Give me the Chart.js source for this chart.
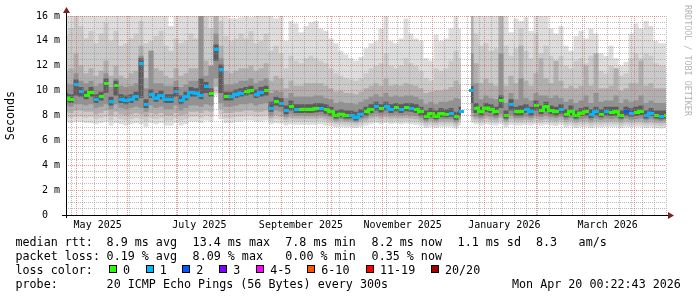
<!DOCTYPE html>
<html><head><meta charset="utf-8">
<script src="https://cdn.jsdelivr.net/npm/chart.js@4/dist/chart.umd.min.js"></script>
<style>
html,body{margin:0;padding:0;background:#fff;}
#wrap{position:relative;width:697px;height:297px;overflow:hidden;background:#fff;}
#c{position:absolute;left:0;top:0;}
.t{position:absolute;font-family:'DejaVu Sans Mono',monospace;font-size:11.7px;line-height:14px;color:#000;white-space:pre;}
.box{position:absolute;width:6px;height:6px;border:1px solid #000;}
#rrd{position:absolute;left:683px;top:5px;writing-mode:vertical-rl;font-family:'DejaVu Sans Mono',monospace;font-size:8.4px;line-height:10px;color:#b4b4b4;white-space:pre;}
</style></head>
<body><div id="wrap"><canvas id="c" width="697" height="297"></canvas><div id="rrd">RRDTOOL / TOBI OETIKER</div></div>
<script>
// ---------- data (one sample every 3 days, starting 2025-04-25) ----------
const startDate = '2025-04-25';
const stepDays = 3;
const median = [
 9.4,9.3,10.5,9.9,9.6,9.85,9.3,9.5,10.6,9.1,
 10.4,9.3,9.2,9.3,9.5,12.2,8.9,9.7,9.4,9.6,
 9.3,9.3,9.9,9.2,9.5,9.85,9.8,9.6,10.3,9.8,
 13.3,11.7,9.5,9.5,9.7,9.8,9.9,10.0,9.7,9.85,
 10.0,8.6,9.1,9.0,8.4,8.75,8.5,8.5,8.5,8.5,
 8.55,8.6,8.45,8.3,8.0,8.1,8.0,8.0,7.85,8.1,
 8.3,8.5,8.7,8.55,8.7,8.5,8.65,8.5,8.65,8.6,
 8.5,8.3,7.95,8.15,7.95,8.15,8.1,8.15,7.9,8.3,
 null,10.0,8.6,8.3,8.6,8.5,8.3,9.2,8.0,8.9,
 8.3,8.3,8.5,8.3,8.8,8.4,8.7,8.4,8.3,8.45,
 8.1,8.35,8.0,8.2,8.3,8.05,8.3,8.1,8.3,8.25,
 8.3,8.0,8.3,8.15,8.25,8.35,8.0,8.2,8.0,7.95,
 8.0];
const lossCount = [
 0,0,1,1,0,0,1,0,0,1,
 0,1,1,1,1,1,1,1,1,1,
 1,1,1,1,1,1,1,1,1,0,
 1,1,0,1,1,1,0,0,1,1,
 0,1,0,1,1,0,1,0,0,0,
 0,1,0,0,0,0,0,1,1,1,
 0,0,1,0,1,1,0,1,0,1,
 0,0,0,0,0,0,0,1,0,1,
 null,1,0,0,0,0,0,0,0,1,
 0,0,1,1,0,0,0,0,0,1,
 0,0,0,0,0,1,1,0,1,0,
 0,0,2,1,0,0,1,1,0,1,
 0];
const smokeTop1 = [
 16.5,16.5,16.5,16.5,16.5,16.5,16.5,16.5,16.5,16.5,
 16.5,16.5,16.5,16.5,16.5,16.5,16.5,16.5,16.5,16.5,
 16.5,15.2,16.5,16.5,16.5,16.5,16.5,16.5,16.5,16.5,
 16.5,16.5,16.5,15.8,15.8,15.9,16.5,15.9,16.5,16.0,
 16.5,16.0,15.8,16.5,14.0,15.6,15.4,14.7,15.2,15.5,
 15.6,15.0,14.8,14.2,13.8,13.2,12.9,12.6,12.4,12.7,
 13.4,13.8,14.0,15.0,16.2,14.0,13.8,14.2,15.8,14.6,
 14.2,14.0,12.6,12.4,14.5,14.0,14.2,15.0,16.2,15.0,
 null,16.5,16.5,16.5,16.2,16.5,16.0,16.5,16.0,14.7,
 15.8,15.6,15.9,14.8,16.5,16.0,16.3,15.0,14.6,15.2,
 13.6,13.2,14.4,14.8,14.2,15.0,14.6,13.0,12.8,13.6,
 12.6,12.0,12.3,14.6,15.4,15.0,15.6,15.2,14.0,13.8,
 13.8];
const smokeTop2 = [
 14.5,15.0,16.5,15.2,14.2,14.8,13.8,14.6,15.5,14.0,
 14.8,13.6,13.8,14.2,14.6,15.6,13.8,14.0,14.4,14.8,
 13.6,13.2,14.2,13.8,14.0,14.6,14.2,16.5,16.5,15.0,
 16.5,15.6,14.4,14.0,14.2,14.6,14.2,14.8,13.8,14.0,
 14.6,13.2,13.6,13.0,11.8,12.8,12.4,12.2,12.6,12.8,
 12.6,12.4,12.2,11.8,11.4,11.2,11.0,10.9,10.8,11.0,
 11.4,11.8,12.0,12.2,13.0,12.0,11.8,12.0,12.6,12.2,
 12.0,11.6,11.0,10.8,11.8,11.6,11.8,12.4,13.2,12.6,
 null,15.0,14.6,13.6,13.8,13.2,13.4,16.5,13.6,12.8,
 13.4,15.0,13.2,12.6,14.6,13.0,13.6,12.8,12.4,12.8,
 12.0,11.8,12.4,12.6,12.2,12.8,12.6,11.6,11.4,12.0,
 11.4,11.2,11.4,12.6,13.0,12.6,13.0,12.8,12.2,12.0,
 12.0];
const smokeTop3 = [
 11.6,11.8,13.0,12.0,11.4,11.8,11.2,11.6,12.4,11.2,
 12.0,11.2,11.0,11.4,11.6,13.6,11.0,13.2,11.8,11.6,
 11.2,11.0,11.8,11.2,11.4,11.8,11.8,16.5,12.4,12.0,
 16.5,13.6,11.6,11.4,11.6,11.8,11.8,12.0,11.6,11.8,
 12.2,10.8,11.2,11.0,10.2,10.8,10.4,10.4,10.6,10.6,
 10.6,10.6,10.4,10.2,9.9,10.0,9.8,9.8,9.7,9.9,
 10.2,10.4,10.6,10.4,11.0,10.4,10.5,10.4,10.6,10.5,
 10.4,10.2,9.8,9.9,10.0,10.0,10.1,10.3,10.8,10.5,
 null,16.5,12.2,10.6,11.0,10.6,10.4,16.0,10.4,11.2,
 10.6,13.6,10.8,10.4,11.4,12.6,11.0,10.6,12.4,10.8,
 10.2,10.4,10.2,10.4,12.0,10.4,13.0,10.2,10.2,10.4,
 11.8,10.0,10.2,10.6,10.6,12.4,10.4,10.6,10.2,10.2,
 10.2];
const smokeTop4 = [
 10.6,10.5,11.4,10.8,10.6,10.8,10.4,10.6,11.4,10.3,
 11.0,10.4,10.3,10.4,10.6,12.8,10.2,13.2,10.6,10.6,
 10.4,10.4,10.8,10.3,10.5,10.8,10.8,16.5,11.2,12.0,
 14.6,12.6,10.5,10.5,10.6,10.8,10.8,11.0,10.6,10.8,
 11.0,9.8,10.0,9.9,9.4,9.8,9.5,9.5,9.5,9.5,
 9.6,9.6,9.4,9.3,9.0,9.1,9.0,9.0,8.9,9.1,
 9.3,9.5,9.7,9.5,9.8,9.5,9.6,9.5,9.6,9.6,
 9.5,9.3,8.9,9.1,8.9,9.1,9.1,9.2,9.4,9.3,
 null,13.0,10.6,9.3,9.6,9.4,9.3,13.0,9.0,9.8,
 9.3,11.0,9.4,9.2,9.8,9.6,9.6,9.4,9.6,9.4,
 9.1,9.3,9.0,9.2,9.6,9.0,9.8,9.1,9.2,9.2,
 9.6,9.0,9.3,9.1,9.2,9.6,9.0,9.2,9.0,9.0,
 9.0];
const smokeTop5 = [
 9.8,9.7,10.9,10.3,10.0,10.3,9.7,9.9,11.0,9.5,
 10.8,9.7,9.6,9.7,9.9,12.6,9.3,10.1,9.8,10.0,
 9.7,9.7,10.3,9.6,9.9,10.3,10.2,11.0,10.7,10.2,
 13.7,12.1,9.9,9.9,10.1,10.2,10.3,10.4,10.1,10.3,
 10.4,9.1,9.5,9.4,8.8,9.2,8.9,8.9,8.9,8.9,
 9.0,9.0,8.9,8.7,8.4,8.5,8.4,8.4,8.3,8.5,
 8.7,8.9,9.1,8.9,9.1,8.9,9.0,8.9,9.0,9.0,
 8.9,8.7,8.4,8.6,8.4,8.6,8.5,8.6,8.3,8.7,
 null,10.4,9.0,8.7,9.0,8.9,8.7,9.6,8.4,9.3,
 8.7,8.8,8.9,8.7,9.2,8.8,9.1,8.8,8.7,8.9,
 8.5,8.8,8.4,8.6,8.7,8.5,8.7,8.5,8.7,8.7,
 8.7,8.4,8.7,8.6,8.7,8.8,8.4,8.6,8.4,8.4,
 8.4];
const smokeLow5 = [
 9.1,9.0,9.6,9.5,9.3,9.5,9.0,9.2,9.8,8.8,
 9.6,9.0,8.9,9.0,9.2,9.4,8.6,9.4,9.1,9.3,
 9.0,9.0,9.5,8.9,9.2,9.5,9.5,9.3,9.8,9.5,
 12.4,9.8,9.2,9.2,9.4,9.5,9.6,9.7,9.4,9.5,
 9.6,8.3,8.8,8.7,8.1,8.4,8.2,8.2,8.2,8.2,
 8.25,8.3,8.15,8.0,7.75,7.85,7.75,7.75,7.6,7.85,
 8.0,8.2,8.4,8.25,8.4,8.2,8.35,8.2,8.35,8.3,
 8.2,8.0,7.7,7.9,7.7,7.9,7.85,7.9,7.65,8.0,
 null,9.0,8.2,8.0,8.3,8.2,8.0,8.6,7.75,8.4,
 8.0,8.0,8.2,8.0,8.4,8.1,8.35,8.1,8.0,8.15,
 7.85,8.05,7.75,7.95,8.0,7.8,8.0,7.85,8.0,7.95,
 8.0,7.75,8.0,7.9,7.95,8.05,7.75,7.95,7.75,7.7,
 7.75];
const smokeLow4 = [
 8.8,8.7,8.9,8.9,8.8,8.9,8.6,8.7,8.9,8.5,
 8.9,8.6,8.5,8.6,8.7,8.6,8.3,8.8,8.6,8.7,
 8.5,8.5,8.8,8.4,8.6,8.8,8.8,8.7,8.9,8.8,
 11.0,9.0,8.7,8.7,8.8,8.9,8.9,9.0,8.8,8.9,
 9.0,8.0,8.4,8.3,7.9,8.1,8.0,8.0,8.0,8.0,
 8.0,8.05,7.95,7.85,7.6,7.7,7.6,7.6,7.5,7.7,
 7.8,8.0,8.1,8.0,8.1,8.0,8.05,8.0,8.05,8.0,
 7.95,7.8,7.55,7.7,7.55,7.7,7.7,7.7,7.5,7.8,
 null,8.2,7.9,7.8,8.0,7.9,7.8,8.1,7.6,8.0,
 7.8,7.8,7.9,7.8,8.0,7.85,8.0,7.85,7.8,7.9,
 7.65,7.8,7.6,7.7,7.75,7.6,7.75,7.65,7.75,7.7,
 7.75,7.6,7.75,7.65,7.7,7.75,7.6,7.7,7.6,7.55,
 7.6];
const smokeLow3 = [
 8.3,8.2,8.4,8.4,8.3,8.3,8.1,8.2,8.4,8.0,
 8.3,8.1,8.0,8.1,8.2,8.1,7.9,8.2,8.1,8.2,
 8.0,8.0,8.2,8.0,8.1,8.3,8.3,8.2,8.4,8.3,
 10.3,8.5,8.2,8.2,8.3,8.3,8.4,8.4,8.3,8.3,
 8.4,7.8,8.0,7.9,7.7,7.8,7.75,7.75,7.75,7.75,
 7.75,7.8,7.7,7.6,7.45,7.5,7.45,7.45,7.4,7.5,
 7.6,7.75,7.85,7.75,7.85,7.75,7.8,7.75,7.8,7.75,
 7.7,7.6,7.4,7.5,7.4,7.5,7.5,7.5,7.35,7.6,
 null,7.9,7.7,7.6,7.75,7.65,7.6,7.8,7.45,7.7,
 7.6,7.6,7.65,7.6,7.75,7.6,7.7,7.6,7.55,7.65,
 7.45,7.55,7.4,7.5,7.5,7.4,7.5,7.45,7.5,7.5,
 7.5,7.4,7.5,7.45,7.5,7.5,7.4,7.45,7.4,7.35,
 7.4];
const smokeLow2 = [
 7.9,7.8,7.9,7.9,7.8,7.9,7.7,7.8,7.9,7.6,
 7.9,7.7,7.6,7.7,7.8,7.7,7.5,7.8,7.7,7.8,
 7.6,7.6,7.8,7.6,7.7,7.9,7.9,7.8,8.0,7.9,
 9.8,8.1,7.8,7.8,7.9,7.9,8.0,8.0,7.9,7.9,
 8.0,7.55,7.7,7.65,7.45,7.55,7.5,7.5,7.5,7.5,
 7.5,7.55,7.45,7.4,7.3,7.3,7.25,7.25,7.2,7.3,
 7.4,7.5,7.6,7.5,7.6,7.5,7.55,7.5,7.55,7.5,
 7.45,7.4,7.2,7.3,7.2,7.3,7.3,7.3,7.15,7.4,
 null,7.6,7.5,7.4,7.5,7.45,7.4,7.55,7.25,7.45,
 7.4,7.4,7.45,7.4,7.5,7.4,7.45,7.4,7.35,7.45,
 7.25,7.35,7.2,7.3,7.3,7.2,7.3,7.25,7.3,7.3,
 7.3,7.2,7.3,7.25,7.3,7.3,7.2,7.25,7.2,7.15,
 7.2];
const smokeLow1 = [
 7.5,7.4,7.5,7.5,7.4,7.4,7.3,7.4,7.5,7.2,
 7.4,7.3,7.2,7.3,7.4,7.3,7.1,7.4,7.3,7.4,
 7.2,7.2,7.4,7.2,7.3,7.5,7.5,7.4,7.6,7.5,
 9.6,7.7,7.4,7.4,7.5,7.5,7.6,7.6,7.5,7.5,
 7.6,7.3,7.4,7.35,7.2,7.3,7.25,7.25,7.25,7.25,
 7.25,7.3,7.2,7.15,7.05,7.1,7.05,7.05,7.0,7.1,
 7.2,7.3,7.4,7.3,7.4,7.3,7.35,7.3,7.35,7.3,
 7.25,7.2,7.0,7.1,7.0,7.1,7.1,7.1,6.95,7.2,
 null,7.4,7.3,7.2,7.3,7.25,7.2,7.3,7.05,7.25,
 7.2,7.2,7.25,7.2,7.3,7.2,7.25,7.2,7.15,7.25,
 7.05,7.15,7.0,7.1,7.1,7.0,7.1,7.05,7.1,7.1,
 7.1,7.0,7.1,7.05,7.1,7.1,7.0,7.05,7.0,6.95,
 7.0];

// axis / tick labels
const monthStarts = ['2025-05-01','2025-06-01','2025-07-01','2025-08-01','2025-09-01','2025-10-01','2025-11-01','2025-12-01','2026-01-01','2026-02-01','2026-03-01','2026-04-01'];
const xLabelDates = ['2025-05-14','2025-07-14','2025-09-13','2025-11-13','2026-01-13','2026-03-16'];
const xLabels = ['May 2025','July 2025','September 2025','November 2025','January 2026','March 2026'];
const firstMonday = '2025-04-28';
const yLabelValues = [0,2,4,6,8,10,12,14,16];
const yLabels = ['0  ','2 m','4 m','6 m','8 m','10 m','12 m','14 m','16 m'];

// legend texts
const rowHeads = ['median rtt:','packet loss:','loss color:','probe:'];
const rttStats = ['8.9 ms avg','13.4 ms max','7.8 ms min','8.2 ms now','1.1 ms sd','8.3','am/s'];
const lossStats = ['0.19 % avg','8.09 % max','0.00 % min','0.35 % now'];
const lossLabels = ['0','1','2','3','4-5','6-10','11-19','20/20'];
const lossColors = ['#26ff00','#00b8ff','#0059ff','#7e00ff','#ff00ff','#ff5500','#ff0000','#a10000'];
const probeText = '20 ICMP Echo Pings (56 Bytes) every 300s';
const dateText = 'Mon Apr 20 00:22:43 2026';

// ---------- helpers ----------
const startUTC = (() => { const [y,m,d] = startDate.split('-').map(Number); return Date.UTC(y,m-1,d); })();
const dayOf = s => { const [y,m,d] = s.split('-').map(Number); return (Date.UTC(y,m-1,d) - startUTC) / 86400000; };
const totalDays = (median.length - 1) * stepDays;
const xs = median.map((_, i) => i * stepDays);
const pts = arr => arr.map((v, i) => ({x: xs[i], y: v}));

const monthDays = new Set(monthStarts.map(dayOf));
const mondayDays = new Set();
for (let d = dayOf(firstMonday); d <= totalDays; d += 7) mondayDays.add(d);
const labelMap = new Map(xLabelDates.map((s, i) => [dayOf(s), xLabels[i]]));
const xTickValues = Array.from(new Set([...monthDays, ...mondayDays, ...labelMap.keys()])).sort((a,b)=>a-b);
const yLabelMap = new Map(yLabelValues.map((v, i) => [v, yLabels[i]]));
const yTickValues = [];
for (let v = 0; v <= 16; v += 0.5) yTickValues.push(v);

const MGRID = 'rgba(222,79,79,0.6)';
const GRID = 'rgba(143,143,143,0.6)';
const NONE = 'rgba(0,0,0,0)';

const blocks = lossColors.map(c => { const cv = document.createElement('canvas'); cv.width = 5; cv.height = 3; const g = cv.getContext('2d'); g.fillStyle = c; g.fillRect(0,0,5,3); return cv; });

const layers = [
  {hi: smokeTop1, lo: smokeLow1, color: '#dddddd'},
  {hi: smokeTop2, lo: smokeLow2, color: '#cacaca'},
  {hi: smokeTop3, lo: smokeLow3, color: '#b0b0b0'},
  {hi: smokeTop4, lo: smokeLow4, color: '#929292'},
  {hi: smokeTop5, lo: smokeLow5, color: '#5c5c5c'}
];

const datasets = [{
  label: 'median', data: pts(median), stepped: 'middle', borderWidth: 3, spanGaps: false, fill: false, order: 0,
  borderColor: '#000', borderCapStyle: 'butt',
  segment: { borderColor: c => {
    const a = lossCount[c.p0DataIndex], b = lossCount[c.p1DataIndex];
    return (a === b && Math.abs(c.p1.parsed.y - c.p0.parsed.y) <= 0.35) ? lossColors[a] : NONE; } },
  pointStyle: c => blocks[lossCount[c.dataIndex]] || 'rect', pointRadius: 2, pointHoverRadius: 2
}];
layers.forEach((L, k) => {
  datasets.push({ data: pts(L.hi), stepped: 'middle', borderWidth: 0, pointRadius: 0, fill: '+1', backgroundColor: L.color, order: 20 - k, spanGaps: false });
  datasets.push({ data: pts(L.lo), stepped: 'middle', borderWidth: 0, pointRadius: 0, fill: false, order: 20 - k, spanGaps: false });
});

const axisPlugin = { id: 'rrdAxes', afterDraw(chart) {
  const {ctx, chartArea: a} = chart;
  ctx.save();
  ctx.strokeStyle = '#000'; ctx.lineWidth = 1;
  ctx.beginPath();
  ctx.moveTo(a.left - 4, a.bottom + 0.5); ctx.lineTo(a.right + 3, a.bottom + 0.5);
  ctx.moveTo(a.left + 0.5, a.bottom + 3); ctx.lineTo(a.left + 0.5, a.top - 3);
  ctx.stroke();
  ctx.fillStyle = '#801f1f';
  ctx.beginPath(); ctx.moveTo(a.right + 2, a.bottom + 0.5 - 3.5); ctx.lineTo(a.right + 8, a.bottom + 0.5); ctx.lineTo(a.right + 2, a.bottom + 0.5 + 3.5); ctx.closePath(); ctx.fill();
  ctx.beginPath(); ctx.moveTo(a.left + 0.5 - 3.5, a.top - 3); ctx.lineTo(a.left + 0.5, a.top - 9); ctx.lineTo(a.left + 0.5 + 3.5, a.top - 3); ctx.closePath(); ctx.fill();
  ctx.restore();
}};

Chart.defaults.font.family = "'DejaVu Sans Mono', monospace";
new Chart(document.getElementById('c'), {
  type: 'line',
  data: { datasets },
  plugins: [axisPlugin],
  options: {
    responsive: false, animation: false, events: [],
    layout: { padding: { left: 0, right: 31, top: 16, bottom: 0 } },
    plugins: { legend: { display: false }, tooltip: { enabled: false } },
    scales: {
      x: {
        type: 'linear', min: 0, max: totalDays,
        afterBuildTicks: s => { s.ticks = xTickValues.map(v => ({value: v})); },
        afterFit: s => { s.height = 82; },
        ticks: { autoSkip: false, maxRotation: 0, minRotation: 0, padding: 4, color: '#000', font: {size: 10}, callback: v => labelMap.get(v) || '' },
        grid: { drawTicks: false, z: 1, lineWidth: 1, color: c => monthDays.has(c.tick.value) ? MGRID : (mondayDays.has(c.tick.value) ? GRID : NONE) },
        border: { display: false, dash: [1, 1] }
      },
      y: {
        type: 'linear', min: 0, max: 16,
        afterBuildTicks: s => { s.ticks = yTickValues.map(v => ({value: v})); },
        afterFit: s => { s.width = 66; },
        ticks: { autoSkip: false, padding: 6, color: '#000', font: {size: 10}, callback: v => yLabelMap.has(v) ? yLabelMap.get(v) : '' },
        grid: { drawTicks: false, z: 1, lineWidth: 1, color: c => (c.tick.value % 2 === 0) ? MGRID : GRID },
        border: { display: false, dash: [1, 1] },
        title: { display: true, text: 'Seconds', color: '#000', font: {size: 11.7}, padding: {top: 4, bottom: 0} }
      }
    }
  }
});

// ---------- legend (HTML text) ----------
const wrap = document.getElementById('wrap');
const rowTops = [235, 249, 263, 277];
const statX = [106.6, 192.6, 285.3, 371.6, 457.6, 536, 578.6];
function addText(x, y, s) { const d = document.createElement('div'); d.className = 't'; d.style.left = x + 'px'; d.style.top = y + 'px'; d.textContent = s; wrap.appendChild(d); }
rowHeads.forEach((h, r) => addText(15.5, rowTops[r], h));
rttStats.forEach((s, i) => addText(statX[i], rowTops[0], s));
lossStats.forEach((s, i) => addText(statX[i], rowTops[1], s));
const boxX = [109, 145.7, 182.3, 219, 256, 307.3, 365.7, 430.7];
const boxLabelX = [123, 159.7, 196.3, 233.3, 270.3, 321.3, 380, 445];
lossLabels.forEach((s, i) => {
  const b = document.createElement('div'); b.className = 'box';
  b.style.left = Math.round(boxX[i]) + 'px'; b.style.top = '265px'; b.style.background = lossColors[i];
  wrap.appendChild(b);
  addText(boxLabelX[i], rowTops[2], s);
});
addText(106.6, rowTops[3], probeText);
addText(512, rowTops[3], dateText);
</script>
</body></html>
